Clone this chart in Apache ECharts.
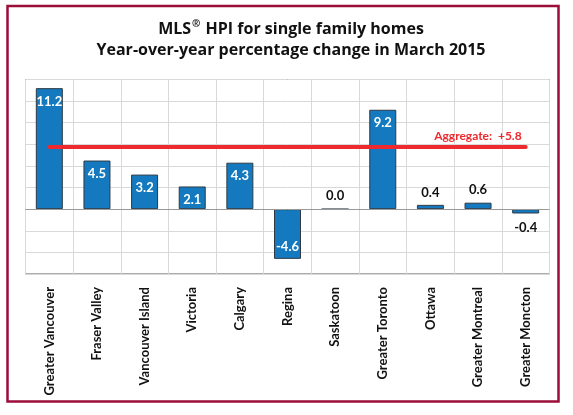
<!DOCTYPE html>
<html>
<head>
<meta charset="utf-8">
<script src="https://cdn.jsdelivr.net/npm/echarts@6/dist/echarts.min.js"></script>
<style>
  html, body { margin: 0; padding: 0; background: #fff; }
  #chart { width: 573px; height: 415px; }
</style>
</head>
<body>
<div id="chart"></div>
<script>
var categories = ["Greater Vancouver", "Fraser Valley", "Vancouver Island", "Victoria", "Calgary",
    "Regina", "Saskatoon", "Greater Toronto", "Ottawa", "Greater Montreal", "Greater Moncton"];
var changes = [11.2, 4.5, 3.2, 2.1, 4.3, -4.6, 0.0, 9.2, 0.4, 0.6, -0.4];
var aggregate = 5.8;
var yTicks = { min: -6, max: 12, interval: 2 };

var FONT = "Lato, 'Open Sans', sans-serif";
var TITLE_FONT = "'Open Sans', Lato, sans-serif";

// tall bars get white labels inside, small ones black outside
var barData = changes.map(function (v) {
    var lbl;
    if (v > 1) {
        lbl = { position: 'insideTop', distance: 7, color: '#fff' };
    } else if (v < -1) {
        lbl = { position: 'insideBottom', distance: 6, color: '#fff' };
    } else if (v < 0) {
        lbl = { position: 'bottom', distance: 8, color: '#111' };
    } else {
        lbl = { position: 'top', distance: 6, color: '#111' };
    }
    return { value: v, label: lbl };
});

var chart = echarts.init(document.getElementById('chart'));
chart.setOption({
    animation: false,
    backgroundColor: '#fff',
    title: {
        text: '{t|MLS}{s|®}{t| HPI for single family homes}\n{t|Year-over-year percentage change in March 2015}',
        left: 286,
        top: 14,
        textAlign: 'center',
        textStyle: {
            rich: {
                t: { fontFamily: TITLE_FONT, fontWeight: 'bold', fontSize: 16, color: '#111', lineHeight: 21 },
                s: { fontFamily: TITLE_FONT, fontWeight: 'bold', fontSize: 10, color: '#111', lineHeight: 21, verticalAlign: 'top', padding: [0, 1, 6, 1] }
            }
        }
    },
    graphic: [{
        type: 'rect',
        shape: { x: 7.5, y: 6, width: 551, height: 395.5 },
        style: { fill: null, stroke: '#9c0d3a', lineWidth: 2.5 },
        z: 100
    }],
    grid: {
        left: 25.5, right: 23.5, top: 79.5, bottom: 141,
        show: true, borderColor: '#595959', borderWidth: 1
    },
    xAxis: {
        type: 'category',
        data: categories,
        axisLine: { onZero: false, show: false },
        axisTick: { show: false },
        splitLine: { show: true, lineStyle: { color: '#d9d9d9', width: 1 } },
        axisLabel: {
            rotate: 90,
            interval: 0,
            margin: 13,
            fontFamily: FONT,
            fontWeight: 'bold',
            fontSize: 13,
            color: '#111'
        }
    },
    yAxis: {
        type: 'value',
        min: yTicks.min,
        max: yTicks.max,
        interval: yTicks.interval,
        axisLine: { show: false },
        axisTick: { show: false },
        axisLabel: { show: false },
        splitLine: { lineStyle: { color: '#d9d9d9', width: 1 } }
    },
    series: [{
        type: 'bar',
        data: barData,
        barWidth: 27,
        itemStyle: { color: '#1479be', borderColor: '#2d3a45', borderWidth: 1 },
        label: {
            show: true,
            fontFamily: FONT,
            fontWeight: 'bold',
            fontSize: 13,
            formatter: function (p) { return p.value.toFixed(1); }
        },
        markLine: {
            silent: true,
            symbol: 'none',
            data: [
                [{ yAxis: 0, x: 25.5, lineStyle: { color: '#999', width: 1, type: 'solid' }, label: { show: false } },
                 { yAxis: 0, x: 549.5 }],
                [{ coord: [categories[0], aggregate], lineStyle: { color: '#ee2a2e', width: 4, type: 'solid', cap: 'round' },
                   label: {
                       show: true, position: 'insideEndTop', distance: 4,
                       formatter: 'Aggregate:  +' + aggregate.toFixed(1),
                       color: '#ee2a2e', fontFamily: FONT, fontWeight: 'bold', fontSize: 12
                   } },
                 { coord: [categories[categories.length - 1], aggregate] }]
            ]
        }
    }]
});
</script>
</body>
</html>
